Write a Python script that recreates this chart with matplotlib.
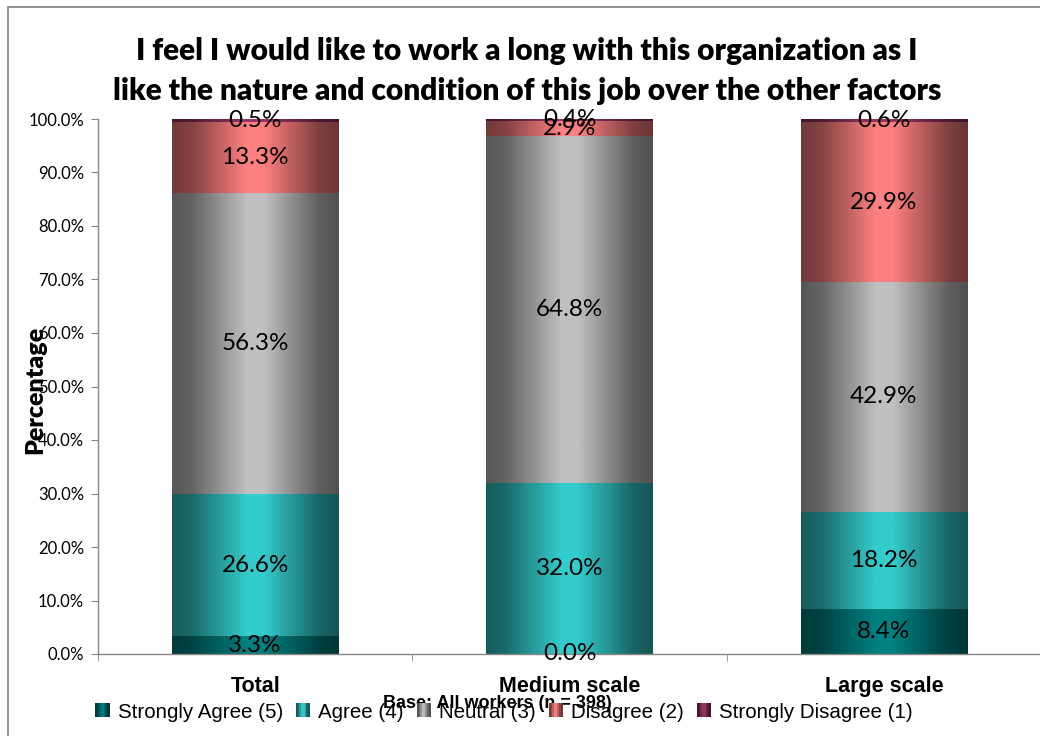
import numpy as np
import matplotlib
matplotlib.use("Agg")
import matplotlib.pyplot as plt
from matplotlib.patches import Rectangle
from matplotlib.legend_handler import HandlerBase

# ---- data -------------------------------------------------------------
categories = ["Total", "Medium scale", "Large scale"]
series_names = ["Strongly Agree (5)", "Agree (4)", "Neutral (3)",
                "Disagree (2)", "Strongly Disagree (1)"]
strongly_agree = [3.3, 0.0, 8.4]
agree = [26.6, 32.0, 18.2]
neutral = [56.3, 64.8, 42.9]
disagree = [13.3, 2.9, 29.9]
strongly_disagree = [0.5, 0.4, 0.6]
yticks = [0, 10, 20, 30, 40, 50, 60, 70, 80, 90, 100]

series_values = [strongly_agree, agree, neutral, disagree, strongly_disagree]
# peak (centre) colours of the cylinder-style gradient
peak_colors = ["#008080", "#33CCCC", "#C0C0C0", "#FF8080", "#993366"]

title = ("I feel I would like to work a long with this organization as I\n"
         "like the nature and condition of this job over the other factors")

CALIBRI_LIKE = ["Lato", "DejaVu Sans"]
ARIAL_LIKE = ["Liberation Sans", "DejaVu Sans"]


def shade_profile(n=256):
    t = np.linspace(0, 1, n)
    pts = [0.0, 0.12, 0.45, 0.55, 0.88, 1.0]
    val = [0.45, 0.52, 1.0, 1.0, 0.5, 0.42]
    return np.interp(t, pts, val)


def gradient_image(color):
    rgb = np.array(matplotlib.colors.to_rgb(color))
    prof = shade_profile()
    return np.clip(prof[None, :, None] * rgb[None, None, :], 0, 1)


class GradientHandler(HandlerBase):
    def __init__(self, color, **kw):
        super().__init__(**kw)
        self.color = color

    def create_artists(self, legend, orig_handle, xdescent, ydescent,
                       width, height, fontsize, trans):
        size = min(width, height) * 0.95
        x0 = -xdescent + (width - size) / 2
        y0 = -ydescent + (height - size) / 2
        rgb = np.array(matplotlib.colors.to_rgb(self.color))
        prof = shade_profile(8)
        strips = []
        for i, f in enumerate(prof):
            strips.append(Rectangle((x0 + i * size / 8, y0), size / 8 + 0.3, size,
                                    facecolor=np.clip(f * rgb, 0, 1),
                                    edgecolor="none", transform=trans))
        return strips


fig = plt.figure(figsize=(10.4, 7.36), dpi=100)
W, H = 1040, 736

# outer chart frame
fig.add_artist(Rectangle((8 / W, -0.1), 1.2, (H - 7) / H + 0.1,
                         transform=fig.transFigure, fill=False,
                         edgecolor="#808080", linewidth=1.2))

ax = fig.add_axes([98 / W, (H - 654) / H, (1041 - 98) / W, (654 - 119) / H])

x = np.arange(len(categories))
bar_width = 0.53
bottom = np.zeros(len(categories))
proxies = []
for name, vals, col in zip(series_names, series_values, peak_colors):
    bars = ax.bar(x, vals, bar_width, bottom=bottom, color="none",
                  edgecolor="none", label=name)
    img = gradient_image(col)
    for b in bars:
        if b.get_height() <= 0:
            continue
        ax.imshow(img, extent=(b.get_x(), b.get_x() + b.get_width(),
                               b.get_y(), b.get_y() + b.get_height()),
                  aspect="auto", interpolation="bilinear", zorder=2)
    for xi, v, b0 in zip(x, vals, bottom):
        ax.text(xi, b0 + v / 2, f"{v:.1f}%", ha="center", va="center",
                fontsize=17.5, family=CALIBRI_LIKE, color="black", zorder=5)
    proxies.append(Rectangle((0, 0), 1, 1, facecolor=col))
    bottom = bottom + np.array(vals)

ax.set_xlim(-0.5, len(categories) - 0.5)
ax.set_ylim(0, 100)

# axes styling
for s in ["top", "right"]:
    ax.spines[s].set_visible(False)
for s in ["left", "bottom"]:
    ax.spines[s].set_color("#868686")
    ax.spines[s].set_linewidth(1.0)

ax.set_yticks(yticks)
ax.set_yticklabels([f"{v:.1f}%" for v in yticks], family=CALIBRI_LIKE,
                   fontsize=12)
ax.tick_params(axis="y", length=5, color="#868686", pad=5)

ax.set_xticks(x)
ax.set_xticklabels(categories, family=ARIAL_LIKE, fontsize=15.5,
                   fontweight="bold")
ax.tick_params(axis="x", which="major", length=0, pad=16)
ax.set_xticks(np.arange(-0.5, len(categories)), minor=True)
ax.tick_params(axis="x", which="minor", length=5, color="#868686")

fig.text(527 / W, (H - 71) / H, title, ha="center", va="center",
         fontsize=21.5, fontweight="heavy", family=CALIBRI_LIKE,
         linespacing=1.55)

fig.text(35 / W, (H - 390) / H, "Percentage", rotation=90, ha="center",
         va="center", fontsize=18, fontweight="heavy", family=CALIBRI_LIKE)

leg = fig.legend(proxies, series_names, loc="center",
                 bbox_to_anchor=(504 / W, (H - 712) / H), ncol=5,
                 frameon=False, prop={"family": ARIAL_LIKE, "size": 14.8},
                 handlelength=0.7, handleheight=0.7, handletextpad=0.4,
                 columnspacing=0.62,
                 handler_map={p: GradientHandler(c)
                              for p, c in zip(proxies, peak_colors)})

fig.text(497 / W, (H - 703) / H, "Base: All workers (n = 398)", ha="center",
         va="center", fontsize=13, fontweight="bold", family=ARIAL_LIKE)

fig.savefig("out.png", dpi=100)
